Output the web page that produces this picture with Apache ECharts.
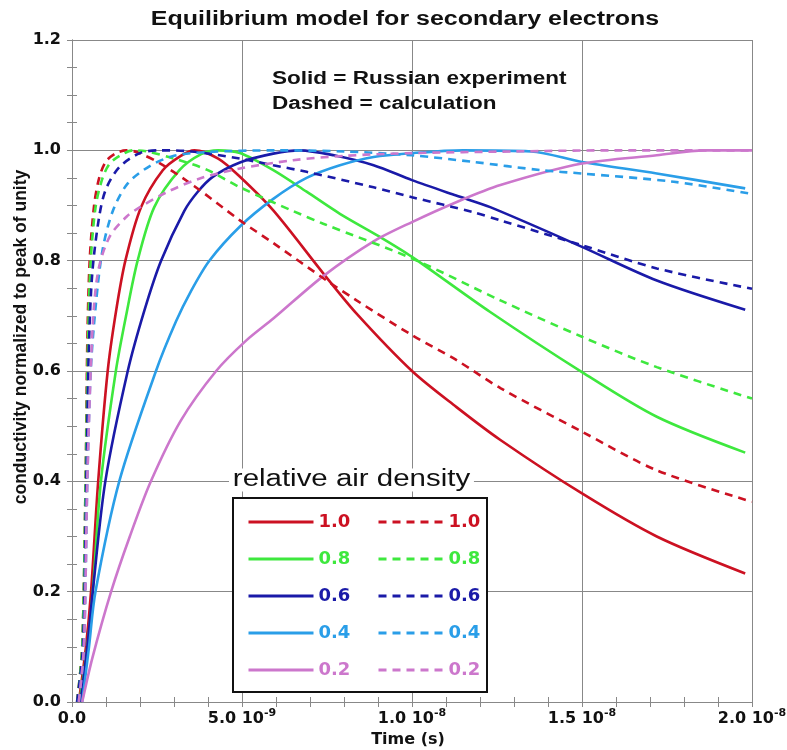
<!DOCTYPE html>
<html>
<head>
<meta charset="utf-8">
<script src="https://cdn.jsdelivr.net/npm/echarts@6/dist/echarts.min.js"></script>
<style>
html, body { margin: 0; padding: 0; background: #fff; }
#myChart { width: 787px; height: 750px; }
</style>
</head>
<body>
<div id="myChart"></div>
<script>
// time in units of 1e-9 s, value = conductivity normalized to peak
const densities = ['1.0', '0.8', '0.6', '0.4', '0.2']
const colors = ['#cc1122', '#3ee83e', '#1a1aa8', '#2a9ee8', '#cc77cc']

// solid = Russian experiment
const expT10 = [0.2, 0.41, 0.56, 0.77, 1.05, 1.3, 1.57, 2.03, 2.67, 3.2, 3.6, 4.3, 4.94, 5.92, 7.39, 8.37, 10, 11.3, 12.6, 15, 17.2, 19.8]
const expV10 = [0, 0.1, 0.2, 0.4, 0.6, 0.71, 0.8, 0.897, 0.964, 0.99, 1.0, 0.985, 0.952, 0.891, 0.777, 0.704, 0.6, 0.535, 0.475, 0.378, 0.3, 0.233]
const expT08 = [0.22, 0.45, 0.61, 0.85, 1.29, 1.59, 1.93, 2.42, 3.16, 3.8, 4.3, 4.94, 5.92, 6.9, 7.88, 9.06, 10, 12.3, 15, 17.2, 19.8]
const expV08 = [0, 0.1, 0.2, 0.4, 0.6, 0.7, 0.8, 0.897, 0.964, 0.993, 1.0, 0.995, 0.964, 0.925, 0.885, 0.843, 0.807, 0.707, 0.598, 0.517, 0.452]
const expT06 = [0.25, 0.45, 0.61, 0.98, 1.64, 2.13, 2.62, 3.3, 3.7, 4.14, 4.94, 5.92, 6.7, 7.7, 8.87, 10, 11.3, 12.3, 15, 17.2, 19.8]
const expV06 = [0, 0.1, 0.2, 0.4, 0.6, 0.71, 0.8, 0.89, 0.925, 0.952, 0.978, 0.994, 1.0, 0.991, 0.973, 0.946, 0.918, 0.897, 0.825, 0.764, 0.711]
const expT04 = [0.3, 0.5, 0.69, 1.39, 2.47, 3.06, 3.5, 4.04, 4.94, 5.92, 6.9, 7.88, 8.87, 10, 11.5, 13.5, 15, 17.2, 19.8]
const expV04 = [0, 0.1, 0.2, 0.4, 0.6, 0.69, 0.745, 0.8, 0.862, 0.912, 0.95, 0.973, 0.988, 0.995, 1.0, 0.998, 0.979, 0.958, 0.931]
const expT02 = [0.3, 0.6, 1.15, 1.7, 2.32, 3.2, 4.24, 5.12, 5.92, 7.39, 8.87, 10, 11.3, 12.6, 15, 17.2, 18.6, 20]
const expV02 = [0, 0.08, 0.2, 0.3, 0.4, 0.51, 0.6, 0.655, 0.695, 0.772, 0.835, 0.87, 0.906, 0.937, 0.976, 0.991, 1.0, 1.0]

// dashed = calculation
const calcT10 = [0.15, 0.3, 0.4, 0.45, 0.52, 0.65, 0.8, 1.0, 1.3, 1.6, 1.9, 2.6, 3.6, 4.94, 5.92, 7.49, 8.37, 10, 11.3, 12.6, 15, 17.2, 20]
const calcV10 = [0, 0.1, 0.4, 0.65, 0.8, 0.9, 0.95, 0.98, 0.995, 1.0, 0.997, 0.976, 0.935, 0.873, 0.832, 0.764, 0.728, 0.665, 0.62, 0.569, 0.49, 0.42, 0.363]
const calcT08 = [0.15, 0.3, 0.4, 0.47, 0.55, 0.7, 0.9, 1.1, 1.4, 1.8, 2.2, 3.0, 3.96, 4.94, 6.5, 7.39, 10, 12.6, 15, 17.2, 20]
const calcV08 = [0, 0.1, 0.4, 0.65, 0.8, 0.9, 0.95, 0.975, 0.99, 1.0, 0.998, 0.985, 0.965, 0.933, 0.89, 0.867, 0.804, 0.728, 0.662, 0.607, 0.55]
const calcT06 = [0.15, 0.32, 0.42, 0.5, 0.6, 0.8, 1.0, 1.4, 2.0, 2.6, 3.5, 4.94, 5.92, 6.9, 8.87, 10, 11.8, 12.6, 15, 17.2, 20]
const calcV06 = [0, 0.1, 0.4, 0.65, 0.78, 0.88, 0.93, 0.97, 0.995, 1.0, 0.998, 0.985, 0.973, 0.961, 0.933, 0.915, 0.888, 0.873, 0.828, 0.786, 0.749]
const calcT04 = [0.2, 0.35, 0.45, 0.55, 0.7, 0.9, 1.2, 1.64, 2.3, 3.0, 4.0, 6.0, 8.0, 10, 11.8, 13.8, 15, 17.7, 20]
const calcV04 = [0, 0.1, 0.4, 0.6, 0.72, 0.82, 0.89, 0.94, 0.972, 0.99, 0.997, 1.0, 0.998, 0.991, 0.979, 0.964, 0.958, 0.943, 0.921]
const calcT02 = [0.2, 0.35, 0.45, 0.55, 0.65, 0.8, 1.12, 1.61, 2.0, 2.78, 3.76, 4.94, 6.5, 8.0, 10, 13, 16, 20]
const calcV02 = [0, 0.1, 0.4, 0.6, 0.72, 0.79, 0.845, 0.88, 0.897, 0.924, 0.949, 0.967, 0.982, 0.99, 0.995, 0.998, 1.0, 1.0]

// x tick labels (mantissa + power of ten)
const xTickMant = ['0.0', '5.0 10', '1.0 10', '1.5 10', '2.0 10']
const xTickExp = ['', '-9', '-8', '-8', '-8']

const expT = [expT10, expT08, expT06, expT04, expT02]
const expV = [expV10, expV08, expV06, expV04, expV02]
const calcT = [calcT10, calcT08, calcT06, calcT04, calcT02]
const calcV = [calcV10, calcV08, calcV06, calcV04, calcV02]

const FONT = '"Liberation Sans", Arial, sans-serif'
const WIDE = '"DejaVu Sans", sans-serif'

function pairs(t, v) {
  return t.map((x, i) => [x, v[i]])
}

let series = []
densities.forEach((d, i) => {
  series.push({
    name: 'exp ' + d,
    type: 'line',
    data: pairs(expT[i], expV[i]),
    symbol: 'none',
    smooth: 0.3,
    lineStyle: { color: colors[i], width: 2.6, type: 'solid' },
    itemStyle: { color: colors[i] }
  })
})
densities.forEach((d, i) => {
  series.push({
    name: 'calc ' + d,
    type: 'line',
    data: pairs(calcT[i], calcV[i]),
    symbol: 'none',
    smooth: 0.3,
    lineStyle: { color: colors[i], width: 2.6, type: [8, 6] },
    itemStyle: { color: colors[i] }
  })
})

function legendOf(prefix, left) {
  return {
    show: true,
    z: 10,
    orient: 'vertical',
    left: left,
    top: 512,
    padding: 0,
    itemWidth: 65,
    itemHeight: 10,
    itemGap: 17,
    selectedMode: false,
    itemStyle: { opacity: 0 },
    lineStyle: { width: 3 },
    formatter: n => n.split(' ')[1],
    textStyle: { fontSize: 18, fontWeight: 'bold', fontFamily: WIDE, lineHeight: 20 },
    data: densities.map((d, i) => ({ name: prefix + d, textStyle: { color: colors[i] } }))
  }
}

const gray = '#888'

let myChart = echarts.init(document.getElementById('myChart'))
myChart.setOption({
  animation: false,
  backgroundColor: '#fff',
  grid: { left: 72, right: 35, top: 40, bottom: 48, containLabel: false, outerBoundsMode: 'none' },
  xAxis: [
    {
      type: 'value',
      min: 0,
      max: 20,
      interval: 5,
      axisLine: { show: true, onZero: false, lineStyle: { color: gray } },
      axisTick: { show: true, inside: true, length: 5, lineStyle: { color: gray } },
      minorTick: { show: true, splitNumber: 5, length: 5, lineStyle: { color: gray } },
      splitLine: { show: true, lineStyle: { color: gray, width: 1 } },
      axisLabel: {
        margin: 6,
        formatter: function (v) {
          const k = Math.round(v / 5)
          return '{m|' + xTickMant[k] + '}' + (xTickExp[k] ? '{s|' + xTickExp[k] + '}' : '')
        },
        rich: {
          m: { fontSize: 16, fontWeight: 'bold', fontFamily: WIDE, color: '#111', lineHeight: 22 },
          s: { fontSize: 11, fontWeight: 'bold', fontFamily: WIDE, color: '#111', lineHeight: 22, verticalAlign: 'top' }
        }
      }
    },
    {
      type: 'value',
      position: 'top',
      min: 0,
      max: 20,
      interval: 5,
      axisLine: { show: true, lineStyle: { color: gray } },
      axisTick: { show: true, inside: true, length: 5, lineStyle: { color: gray } },
      minorTick: { show: true, splitNumber: 5, length: 5, lineStyle: { color: gray } },
      splitLine: { show: false },
      axisLabel: { show: false }
    }
  ],
  yAxis: [
    {
      type: 'value',
      min: 0,
      max: 1.2,
      interval: 0.2,
      axisLine: { show: true, onZero: false, lineStyle: { color: gray } },
      axisTick: { show: true, inside: true, length: 5, lineStyle: { color: gray } },
      minorTick: { show: true, splitNumber: 4, length: 5, lineStyle: { color: gray } },
      splitLine: { show: true, lineStyle: { color: gray, width: 1 } },
      axisLabel: {
        margin: 11,
        fontSize: 16,
        fontWeight: 'bold',
        fontFamily: WIDE,
        color: '#111',
        formatter: v => v.toFixed(1)
      }
    },
    {
      type: 'value',
      position: 'right',
      min: 0,
      max: 1.2,
      interval: 0.2,
      axisLine: { show: true, lineStyle: { color: gray } },
      axisTick: { show: true, inside: true, length: 5, lineStyle: { color: gray } },
      minorTick: { show: true, splitNumber: 4, length: 5, lineStyle: { color: gray } },
      splitLine: { show: false },
      axisLabel: { show: false }
    }
  ],
  legend: [legendOf('exp ', 247), legendOf('calc ', 377)],
  graphic: [
    {
      type: 'text', x: 405, y: 19, z: 5, scaleX: 1.25,
      style: { text: 'Equilibrium model for secondary electrons', align: 'center', verticalAlign: 'middle',
        font: 'bold 20px ' + FONT, fill: '#111' }
    },
    {
      type: 'text', x: 272, y: 79, z: 5, scaleX: 1.25,
      style: { text: 'Solid = Russian experiment', align: 'left', verticalAlign: 'middle',
        font: 'bold 18px ' + FONT, fill: '#111' }
    },
    {
      type: 'text', x: 272, y: 104, z: 5, scaleX: 1.25,
      style: { text: 'Dashed = calculation', align: 'left', verticalAlign: 'middle',
        font: 'bold 18px ' + FONT, fill: '#111' }
    },
    {
      type: 'text', x: 21, y: 337, z: 5, rotation: Math.PI / 2,
      style: { text: 'conductivity normalized to peak of unity', align: 'center', verticalAlign: 'middle',
        font: 'bold 17.5px ' + FONT, fill: '#111' }
    },
    {
      type: 'text', x: 408, y: 740, z: 5,
      style: { text: 'Time (s)', align: 'center', verticalAlign: 'middle',
        font: 'bold 16px ' + WIDE, fill: '#111' }
    },
    {
      type: 'rect', z: 3,
      shape: { x: 233, y: 498, width: 254, height: 194 },
      style: { fill: '#fff', stroke: '#111', lineWidth: 2 }
    },
    {
      type: 'text', x: 229, y: 480, z: 3, scaleX: 1.28,
      style: { text: 'relative air density', align: 'left', verticalAlign: 'middle',
        font: '23px ' + FONT, fill: '#111', backgroundColor: '#fff', padding: [0, 3, 0, 3] }
    }
  ],
  series: series
})
</script>
</body>
</html>
